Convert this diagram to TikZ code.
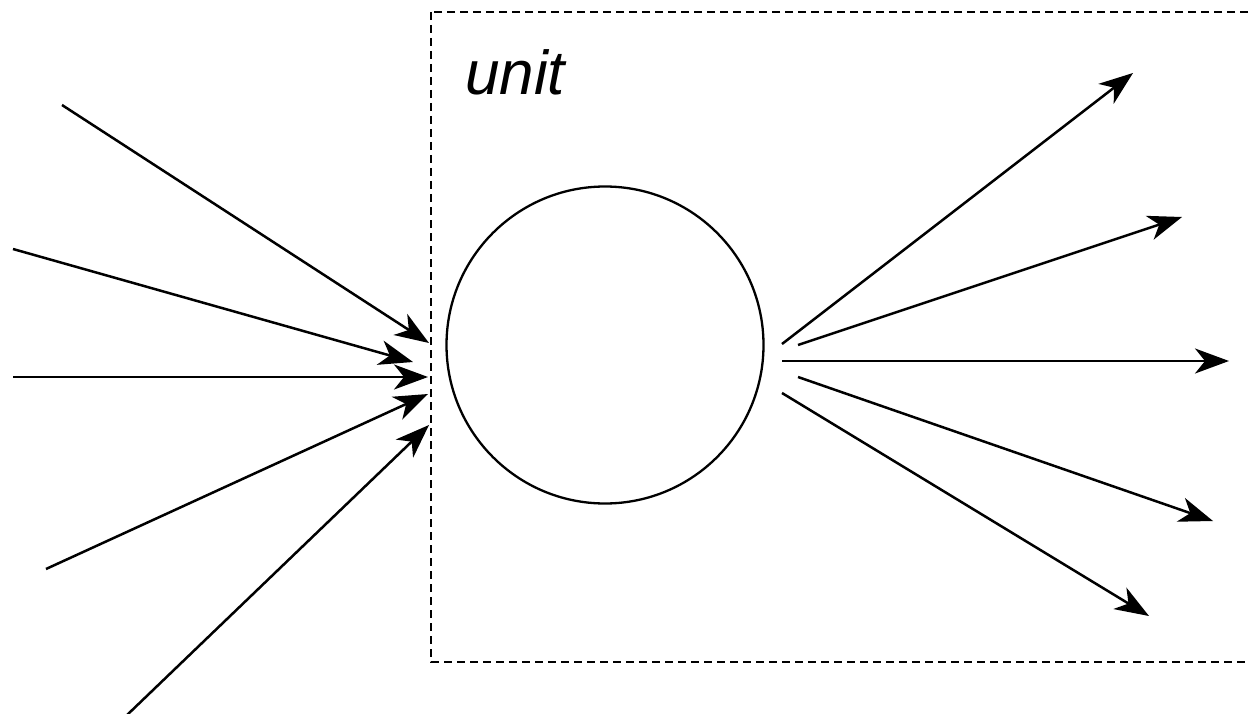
\documentclass[tikz,border=0pt]{standalone}
\usepackage{fontspec}
\setmainfont{Liberation Sans}
\usetikzlibrary{arrows.meta}
\tikzset{
  conn/.style={line width=2.5pt, -{Stealth[length=34pt,width=25pt,inset=10pt]}},
  unitbox/.style={line width=2.2pt, dash pattern=on 8pt off 5pt},
  neuron/.style={circle, draw, line width=2.3pt, minimum size=317pt, inner sep=0pt}
}
\begin{document}
\begin{tikzpicture}[x=1pt,y=-1pt]
\useasboundingbox (0,0) rectangle (1249,714);
\draw[unitbox] (431,12) rectangle (1262,662);
\node[anchor=base west, inner sep=0pt, font=\fontsize{62}{70}\selectfont\itshape] (lbl) at (465,95) {unit};
\node[neuron] (cell) at (605,345) {};
% inputs
\coordinate (i1) at (62,105);   \coordinate (t1) at (429,343);
\coordinate (i2) at (13,249);   \coordinate (t2) at (413,362);
\coordinate (i3) at (13,377);   \coordinate (t3) at (428,377);
\coordinate (i4) at (46,569);   \coordinate (t4) at (428,394);
\coordinate (i5) at (126,716);  \coordinate (t5) at (429,425);
\draw[conn] (i1) -- (t1);
\draw[conn] (i2) -- (t2);
\draw[conn] (i3) -- (t3);
\draw[conn] (i4) -- (t4);
\draw[conn] (i5) -- (t5);
% outputs
\coordinate (o1) at (782,344);  \coordinate (e1) at (1133,73);
\coordinate (o2) at (798,345);  \coordinate (e2) at (1182,217);
\coordinate (o3) at (782,361);  \coordinate (e3) at (1229,361);
\coordinate (o4) at (798,377);  \coordinate (e4) at (1213,521);
\coordinate (o5) at (782,393);  \coordinate (e5) at (1149,616);
\draw[conn] (o1) -- (e1);
\draw[conn] (o2) -- (e2);
\draw[conn] (o3) -- (e3);
\draw[conn] (o4) -- (e4);
\draw[conn] (o5) -- (e5);
\end{tikzpicture}
\end{document}
